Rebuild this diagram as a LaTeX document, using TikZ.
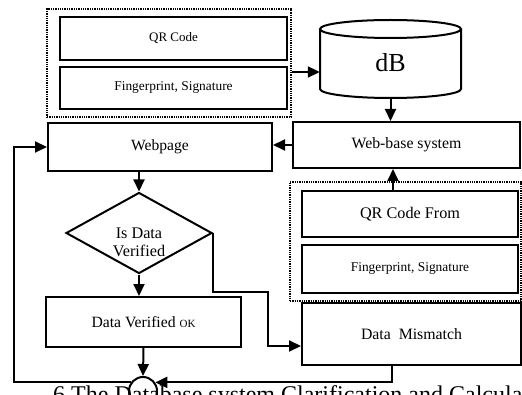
\documentclass[tikz,border=0pt]{standalone}
\usepackage{fontspec}
\setmainfont{Liberation Serif}
\usetikzlibrary{shapes.geometric,calc,arrows.meta}

\begin{document}
\begin{tikzpicture}[x=1pt,y=1pt,
    box/.style={draw, line width=2pt, inner sep=0pt, align=center},
    group/.style={draw, densely dotted, line width=1.3pt, inner sep=0pt},
    arr/.style={line width=2pt, -{Triangle[length=12pt,width=11pt]}}]
  % Frame of the picture
  \useasboundingbox (0,0) rectangle (522,394);
  \clip (0,0) rectangle (522,394);
  % Upper group
  \node[group, minimum width=244, minimum height=108] (topgroup) at (169,331) {};
  \node[box, minimum width=227, minimum height=43, font=\fontsize{13}{15}\selectfont] (qr) at (173.5,355.5) {QR Code};
  \node[box, minimum width=227, minimum height=42, font=\fontsize{13.4}{15}\selectfont] (fp) at (173.5,306) {Fingerprint, Signature};
  % Database
  \node[minimum width=141, minimum height=79, inner sep=0pt] (db) at (390.5,335.5) {};
  \draw[line width=2pt] (320,365) -- (320,305) arc[start angle=180, end angle=360, x radius=70.5, y radius=9] -- (461,365);
  \draw[line width=2pt] (390.5,365) ellipse[x radius=70.5, y radius=9];
  \node[font=\fontsize{26}{30}\selectfont] (dbtext) at (390.5,331) {dB};
  % Middle row
  \node[box, minimum width=224, minimum height=48, font=\fontsize{15.6}{18}\selectfont] (webpage) at (160,247) {Webpage};
  \node[box, minimum width=227, minimum height=46, font=\fontsize{15.8}{18}\selectfont] (web) at (406.5,249) {Web-base system};
  % Lower group
  \node[group, minimum width=231, minimum height=119] (lowgroup) at (405.5,152.5) {};
  \node[box, minimum width=216, minimum height=46, font=\fontsize{16.2}{18}\selectfont] (qrf) at (410,180) {QR Code From};
  \node[box, minimum width=216, minimum height=48, font=\fontsize{13.4}{15}\selectfont] (fpf) at (410,125) {Fingerprint, Signature};
  % Decision
  \node[diamond, draw, line width=2pt, minimum width=146, minimum height=81, aspect=1.8, inner sep=0pt] (dia) at (139,161) {};
  \node[align=center, font=\fontsize{16.2}{18}\selectfont] (diatext) at ([yshift=-9pt]dia.center) {Is Data\\Verified};
  \node[box, minimum width=195, minimum height=50, font=\fontsize{15.7}{18}\selectfont] (ok) at (143.5,72) {Data Verified {\fontsize{11}{12}\selectfont OK}};
  \node[box, minimum width=219, minimum height=62, font=\fontsize{15.8}{18}\selectfont] (mis) at (411.5,60) {Data\ \ Mismatch};
  \node[circle, draw, line width=2pt, fill=white, minimum size=28, inner sep=0pt] (circ) at (143,3) {};
  % Connection points
  \coordinate (fpout) at ($(topgroup.east)+(0,-9)$);
  \coordinate (qrfout) at ($(qrf.north)+(-17,0)$);
  \coordinate (misin) at ($(mis.west)+(0,-12)$);
  \coordinate (misout) at ($(mis.south)+(-19.5,0)$);
  % Arrows
  \draw[arr] (fpout) -- (fpout -| db.west);
  \draw[arr] (db.south) -- (db.south |- web.north);
  \draw[arr] (qrfout) -- (qrfout |- web.south);
  \draw[arr] (web.west) -- (web.west -| webpage.east);
  \draw[arr] (dia.north |- webpage.south) -- (dia.north);
  \draw[arr] (dia.south) -- (dia.south |- ok.north);
  \draw[arr] (ok.south) -- (circ.north);
  \draw[arr] (dia.east) -- ++(0,-59) -- ++(55,0) |- (misin);
  \draw[arr] (misout) |- (circ.35);
  \draw[arr] (circ.145) -| ([xshift=-33pt]webpage.west) -- (webpage.west);
  % Caption
  \node[anchor=base west, inner sep=0pt, font=\fontsize{24}{28}\selectfont] (caption) at (53,-8) {6 The Database system Clarification and Calculation};
\end{tikzpicture}
\end{document}
